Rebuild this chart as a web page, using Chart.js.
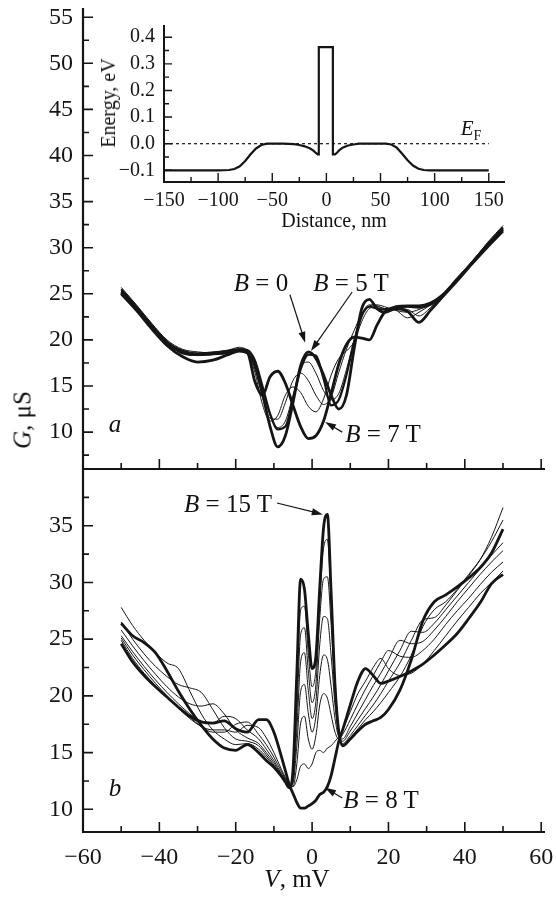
<!DOCTYPE html>
<html>
<head>
<meta charset="utf-8">
<script src="https://cdn.jsdelivr.net/npm/chart.js@4.4.1/dist/chart.umd.min.js"></script>
<style>
  html, body { margin: 0; padding: 0; background: #fff; }
  #wrap { position: relative; width: 556px; height: 897px; overflow: hidden;
          font-family: 'Liberation Serif', 'DejaVu Serif', serif; color: #111; }
  canvas { position: absolute; }
  .t { position: absolute; white-space: nowrap; font-size: 25px; line-height: 1;
       transform: translate(-50%, -50%); }
  .rot { transform: translate(-50%, -50%) rotate(-90deg); }
  i { font-style: italic; }
</style>
</head>
<body>
<div id="wrap">
  <canvas id="chartA" width="556" height="480" style="left:0;top:0"></canvas>
  <canvas id="chartB" width="556" height="437" style="left:0;top:460px"></canvas>
  <canvas id="inset" width="430" height="225" style="left:90px;top:15px"></canvas>

  <div class="t rot" style="left:22px;top:420px"><i>G</i>, μS</div>
  <div class="t" style="left:297px;top:878px"><i>V</i>, mV</div>
  <div class="t rot" style="left:108px;top:103px;font-size:20px">Energy, eV</div>
  <div class="t" style="left:334px;top:220px;font-size:20px">Distance, nm</div>
  <div class="t" style="left:471px;top:128px;font-size:21px"><i>E</i><span style="font-size:14px;position:relative;top:5px">F</span></div>

  <div class="t" style="left:261px;top:282px"><i>B</i> = 0</div>
  <div class="t" style="left:351px;top:282px"><i>B</i> = 5 T</div>
  <div class="t" style="left:383px;top:433px"><i>B</i> = 7 T</div>
  <div class="t" style="left:115px;top:423px"><i>a</i></div>
  <div class="t" style="left:228px;top:503px"><i>B</i> = 15 T</div>
  <div class="t" style="left:381px;top:799px"><i>B</i> = 8 T</div>
  <div class="t" style="left:115px;top:787px"><i>b</i></div>
</div>

<script>
// panel a: bias voltage (mV) and conductance (uS) for B = 0..7 T
const vA = [-50,-46,-42,-38,-34,-30,-26,-22,-19,-17,-15,-13,-11,-9,-7,-5,-3,-1,1,3,5,7,9,11,13,15,17,19,22,25,28,31,34,38,42,46,50];
const gA0 = [25.0,23.2,21.2,19.4,18.2,17.6,17.8,18.4,18.8,18.6,17.2,14.2,10.6,8.4,9.6,13.2,17.2,18.7,18.0,16.2,14.0,12.5,14.0,19.0,23.4,24.4,23.4,23.0,23.4,23.1,21.9,23.2,24.6,26.4,28.3,30.1,31.8];
const gA2 = [25.3,23.4,21.4,19.6,18.6,18.3,18.4,18.7,19.0,18.8,17.6,14.8,11.8,10.5,11.2,14.0,17.0,17.6,16.4,14.5,13.5,14.2,16.8,20.0,22.8,23.8,23.7,23.4,23.4,23.3,22.6,23.5,24.7,26.5,28.4,30.3,32.0];
const gA4 = [25.4,23.5,21.6,19.8,18.9,18.6,18.7,18.9,19.2,18.8,17.0,13.8,11.5,11.4,13.2,15.6,16.4,15.6,14.0,13.0,13.8,16.5,19.0,21.0,22.8,23.7,23.8,23.6,23.2,23.0,23.3,23.9,24.9,26.7,28.6,30.5,32.1];
const gA5 = [25.5,23.6,21.6,19.8,18.8,18.5,18.6,18.8,19.0,18.9,17.8,15.0,12.0,10.3,10.6,13.6,16.8,18.4,18.3,15.8,12.9,13.5,16.2,19.8,22.6,23.6,23.4,23.3,23.5,23.6,23.5,23.8,24.7,26.5,28.4,30.4,32.2];
const gA6 = [25.7,23.8,21.8,20.0,19.0,18.7,18.6,18.7,19.0,18.6,16.5,13.0,11.2,11.8,14.0,14.9,14.3,12.8,12.2,13.6,16.2,18.0,18.8,19.8,22.0,23.4,23.6,23.4,23.2,22.4,23.0,23.8,24.8,26.6,28.5,30.6,32.4];
const gA7 = [25.2,23.4,21.5,19.7,18.6,18.4,18.5,18.6,18.9,18.7,15.5,14.0,16.0,16.6,15.3,12.9,10.6,9.3,9.6,11.2,14.2,17.4,19.5,20.3,20.2,20.0,21.6,23.0,23.6,23.7,23.7,24.0,24.8,26.6,28.4,30.3,32.0];

// panel b: B = 8..15 T
const vB = [-50,-47,-44,-41,-38,-35,-32,-29,-26,-23,-20,-17,-14,-12,-10,-8,-7,-6,-5,-4,-3,-2,-1,0,1,2,3,4,5,6,7,8,10,12,14,16,18,20,23,26,29,32,35,38,41,44,47,50];
const gB8  = [24.6,23.0,21.8,20.8,19.9,19.0,18.2,17.7,17.6,17.8,17.1,16.8,17.9,17.9,16.8,14.6,13.4,12.2,11.4,10.6,10.1,10.1,10.3,10.5,10.8,11.3,11.5,12.0,13.0,14.5,16.0,17.0,19.2,21.3,22.4,21.8,21.1,21.3,21.7,22.2,22.8,23.6,24.5,25.5,26.8,28.2,29.9,30.7];
const gB9  = [24.9,23.3,22.0,20.9,19.9,18.9,18.0,17.3,17.0,17.0,16.8,17.4,17.2,16.3,15.0,13.5,12.8,12.2,12.0,12.6,13.8,14.0,13.6,14.0,15.0,15.2,15.0,15.4,15.6,16.0,16.4,17.0,18.6,20.2,21.3,22.5,23.3,22.4,21.8,22.0,22.8,24.0,25.3,26.6,27.8,29.0,30.0,31.0];
const gB10 = [25.1,23.6,22.3,21.1,20.0,19.0,18.1,17.3,16.8,16.8,17.5,17.7,16.6,15.7,14.6,13.3,12.7,12.1,12.0,14.0,17.6,18.2,16.2,15.3,16.5,19.2,20.2,19.8,18.3,16.8,16.2,16.6,17.9,19.3,20.6,21.8,23.0,24.0,23.5,23.4,24.0,25.0,26.3,27.5,28.6,29.8,30.9,31.8];
const gB11 = [25.3,23.9,22.6,21.4,20.3,19.3,18.4,17.7,17.6,18.2,18.0,17.0,16.2,15.3,14.3,13.1,12.6,12.0,12.3,15.6,20.4,21.0,18.5,16.8,18.2,21.8,23.6,23.2,20.8,18.0,16.4,16.2,17.3,18.5,19.7,20.9,22.0,23.2,24.9,24.6,24.8,25.8,27.0,28.3,29.5,30.7,31.8,32.8];
const gB12 = [25.8,24.4,23.1,21.9,20.8,19.9,19.3,19.1,19.3,18.4,17.0,16.3,15.8,15.0,14.1,13.0,12.5,12.0,12.6,17.0,23.0,23.8,20.5,18.0,19.5,24.5,27.0,26.8,23.5,19.2,16.6,16.0,16.9,17.9,18.9,19.9,21.0,22.2,24.0,25.7,25.6,26.4,27.6,28.8,30.0,31.2,32.4,33.5];
const gB13 = [26.5,25.0,23.7,22.6,21.7,21.0,20.7,20.3,18.8,17.2,16.2,16.0,15.6,14.8,13.9,12.9,12.4,11.9,12.8,18.5,25.4,26.0,22.2,19.4,21.0,26.8,30.3,30.5,26.2,20.5,16.8,15.8,16.5,17.4,18.3,19.2,20.2,21.3,22.9,24.9,26.7,26.9,28.0,29.3,30.6,32.0,34.0,36.6];
const gB14 = [27.8,26.2,24.9,23.8,22.9,22.4,20.4,18.4,17.0,16.2,15.7,15.8,15.3,14.6,13.8,12.9,12.4,11.9,13.1,20.2,27.6,27.9,23.8,20.8,22.3,28.2,33.0,33.8,28.0,21.0,16.9,15.7,16.3,17.1,17.9,18.6,19.4,20.3,21.7,23.6,26.1,27.6,28.3,29.4,30.7,32.0,33.6,35.5];
const gB15 = [26.4,25.3,24.7,23.8,22.2,20.4,18.8,17.4,16.2,15.4,15.2,15.7,15.0,14.3,13.7,12.9,12.4,11.9,13.5,22.0,30.3,29.4,25.5,22.4,23.5,29.5,34.8,36.0,29.0,21.0,16.8,15.6,16.2,16.9,17.5,17.8,18.1,18.8,20.5,23.2,26.6,28.3,28.9,29.6,30.4,31.3,32.6,34.7];

// inset: potential profile
const dInset = [-150,-100,-90,-85,-80,-75,-70,-65,-60,-55,-40,-30,-25,-20,-15,-12,-10,-8,-7,-7,6,6,8,10,12,15,20,25,30,45,55,60,65,70,75,80,85,90,95,150];
const eInset = [-0.1,-0.1,-0.099,-0.095,-0.085,-0.065,-0.04,-0.018,-0.005,0,0,-0.002,-0.005,-0.01,-0.018,-0.026,-0.034,-0.04,-0.04,0.363,0.363,-0.04,-0.04,-0.033,-0.024,-0.015,-0.007,-0.003,0,0,0,-0.003,-0.015,-0.038,-0.062,-0.082,-0.094,-0.099,-0.1,-0.1];
const dFermi = [-150, 150];
const eFermi = [0, 0];

// ticks
const xLabels = [-60,-40,-20,0,20,40,60];
const xMarks = [-60,-50,-40,-30,-20,-10,0,10,20,30,40,50,60];
const yLabelsA = [10,15,20,25,30,35,40,45,50,55];
const yMarksA = [7.5,10,12.5,15,17.5,20,22.5,25,27.5,30,32.5,35,37.5,40,42.5,45,47.5,50,52.5,55];
const yLabelsB = [10,15,20,25,30,35];
const yMarksB = [10,12.5,15,17.5,20,22.5,25,27.5,30,32.5,35,37.5];
const xLabelsIn = [-150,-100,-50,0,50,100,150];
const xMarksIn = [-150,-125,-100,-75,-50,-25,0,25,50,75,100,125,150];
const yLabelsIn = [-0.1,0,0.1,0.2,0.3,0.4];
const yMarksIn = [-0.1,-0.05,0,0.05,0.1,0.15,0.2,0.25,0.3,0.35,0.4];

const INK = '#151515';
const SERIF = "'Liberation Serif', 'DejaVu Serif', serif";

function series(xs, ys, w) {
    return {
        data: xs.map((x, i) => ({ x: x, y: ys[i] })),
        borderColor: INK,
        borderWidth: w,
        pointRadius: 0,
        fill: false,
        cubicInterpolationMode: 'monotone'
    };
}

function marks(values, step, bigLen, smallLen) {
    return values.map(v => {
        let r = Math.abs(v / step - Math.round(v / step));
        return [v, r < 1e-6 ? bigLen : smallLen];
    });
}

function minus(v) {
    return v < 0 ? '\u2212' + Math.abs(v) : String(v);
}

// draws axis lines, inward ticks and arrows
const framePlugin = {
    id: 'frame',
    afterDatasetsDraw(chart, args, o) {
        const ctx = chart.ctx;
        const a = chart.chartArea;
        const xs = chart.scales.x;
        const ys = chart.scales.y;
        ctx.save();
        ctx.strokeStyle = INK;
        ctx.fillStyle = INK;
        ctx.lineWidth = o.width;
        ctx.beginPath();
        ctx.moveTo(a.left, a.top);
        ctx.lineTo(a.left, a.bottom + o.width / 2);
        ctx.moveTo(a.left - o.width / 2, a.bottom);
        ctx.lineTo(a.right, a.bottom);
        ctx.stroke();

        ctx.lineWidth = o.tickWidth;
        ctx.beginPath();
        o.yTicks.forEach(t => {
            let y = ys.getPixelForValue(t[0]);
            ctx.moveTo(a.left, y);
            ctx.lineTo(a.left + t[1], y);
        });
        o.xTicks.forEach(t => {
            let x = xs.getPixelForValue(t[0]);
            ctx.moveTo(x, a.bottom);
            ctx.lineTo(x, a.bottom - t[1]);
        });
        ctx.stroke();

        (o.arrows || []).forEach(ar => {
            let x1 = xs.getPixelForValue(ar[0]), y1 = ys.getPixelForValue(ar[1]);
            let x2 = xs.getPixelForValue(ar[2]), y2 = ys.getPixelForValue(ar[3]);
            let ang = Math.atan2(y2 - y1, x2 - x1);
            ctx.lineWidth = 1.2;
            ctx.beginPath();
            ctx.moveTo(x1, y1);
            ctx.lineTo(x2 - 6 * Math.cos(ang), y2 - 6 * Math.sin(ang));
            ctx.stroke();
            ctx.beginPath();
            ctx.moveTo(x2, y2);
            ctx.lineTo(x2 - 11 * Math.cos(ang) + 3.5 * Math.sin(ang), y2 - 11 * Math.sin(ang) - 3.5 * Math.cos(ang));
            ctx.lineTo(x2 - 11 * Math.cos(ang) - 3.5 * Math.sin(ang), y2 - 11 * Math.sin(ang) + 3.5 * Math.cos(ang));
            ctx.closePath();
            ctx.fill();
        });
        ctx.restore();
    }
};

function fixWidth(w) {
    return function (s) { s.width = w; s.paddingTop = 0; s.paddingBottom = 0; };
}
function fixHeight(h) {
    return function (s) { s.height = h; s.paddingLeft = 0; s.paddingRight = 0; };
}

// panel a
new Chart(document.getElementById('chartA').getContext('2d'), {
    type: 'line',
    data: {
        datasets: [
            series(vA, gA2, 1),
            series(vA, gA4, 1),
            series(vA, gA6, 1),
            series(vA, gA5, 2.2),
            series(vA, gA0, 2.8),
            series(vA, gA7, 2.8)
        ]
    },
    plugins: [framePlugin],
    options: {
        responsive: false,
        animation: false,
        events: [],
        layout: { padding: { top: 8, right: 11, bottom: 11, left: 0 } },
        scales: {
            x: { type: 'linear', min: -60, max: 61, display: false },
            y: {
                type: 'linear', min: 6, max: 56,
                afterFit: fixWidth(83),
                afterBuildTicks: s => { s.ticks = yLabelsA.map(v => ({ value: v })); },
                grid: { display: false, drawTicks: false },
                border: { display: false },
                ticks: { color: INK, padding: 10, font: { family: SERIF, size: 24 }, callback: v => minus(v) }
            }
        },
        plugins: {
            legend: { display: false },
            tooltip: { enabled: false },
            frame: {
                width: 2.2, tickWidth: 1.6,
                yTicks: marks(yMarksA, 5, 10, 6),
                xTicks: marks(xMarks, 20, 10, 6),
                arrows: [
                    [-5.8, 24.9, -1.8, 19.7],
                    [10.5, 25.2, -0.3, 18.8],
                    [7.9, 10.0, 3.4, 11.1]
                ]
            }
        }
    }
});

// panel b
new Chart(document.getElementById('chartB').getContext('2d'), {
    type: 'line',
    data: {
        datasets: [
            series(vB, gB9, 1),
            series(vB, gB10, 1),
            series(vB, gB11, 1),
            series(vB, gB12, 1),
            series(vB, gB13, 1),
            series(vB, gB14, 1),
            series(vB, gB8, 2.8),
            series(vB, gB15, 2.8)
        ]
    },
    plugins: [framePlugin],
    options: {
        responsive: false,
        animation: false,
        events: [],
        layout: { padding: { top: 9, right: 11, bottom: 0, left: 0 } },
        scales: {
            x: {
                type: 'linear', min: -60, max: 61,
                afterFit: fixHeight(65),
                afterBuildTicks: s => { s.ticks = xLabels.map(v => ({ value: v })); },
                grid: { display: false, drawTicks: false },
                border: { display: false },
                ticks: { color: INK, padding: 11, autoSkip: false, maxRotation: 0, font: { family: SERIF, size: 24 }, callback: v => minus(v) }
            },
            y: {
                type: 'linear', min: 8, max: 40,
                afterFit: fixWidth(83),
                afterBuildTicks: s => { s.ticks = yLabelsB.map(v => ({ value: v })); },
                grid: { display: false, drawTicks: false },
                border: { display: false },
                ticks: { color: INK, padding: 10, font: { family: SERIF, size: 24 }, callback: v => minus(v) }
            }
        },
        plugins: {
            legend: { display: false },
            tooltip: { enabled: false },
            frame: {
                width: 2.2, tickWidth: 1.6,
                yTicks: marks(yMarksB, 5, 10, 6),
                xTicks: marks(xMarks, 20, 10, 6),
                arrows: [
                    [-9.2, 37.0, 2.8, 36.0],
                    [7.9, 11.0, 3.4, 11.9]
                ]
            }
        }
    }
});

// inset: energy profile
const insetFermi = series(dFermi, eFermi, 1.2);
insetFermi.borderDash = [3, 3];
insetFermi.cubicInterpolationMode = 'default';
const insetProfile = series(dInset, eInset, 2.2);
insetProfile.cubicInterpolationMode = 'default';
insetProfile.tension = 0;

new Chart(document.getElementById('inset').getContext('2d'), {
    type: 'line',
    data: { datasets: [insetFermi, insetProfile] },
    plugins: [framePlugin],
    options: {
        responsive: false,
        animation: false,
        events: [],
        layout: { padding: { top: 10, right: 15, bottom: 0, left: 0 } },
        scales: {
            x: {
                type: 'linear', min: -150, max: 165,
                afterFit: fixHeight(58),
                afterBuildTicks: s => { s.ticks = xLabelsIn.map(v => ({ value: v })); },
                grid: { display: false, drawTicks: false },
                border: { display: false },
                ticks: { color: INK, padding: 7, autoSkip: false, maxRotation: 0, font: { family: SERIF, size: 20 }, callback: v => minus(v) }
            },
            y: {
                type: 'linear', min: -0.144, max: 0.446,
                afterFit: fixWidth(74),
                afterBuildTicks: s => { s.ticks = yLabelsIn.map(v => ({ value: v })); },
                grid: { display: false, drawTicks: false },
                border: { display: false },
                ticks: { color: INK, padding: 9, font: { family: SERIF, size: 20 },
                         callback: v => (v < 0 ? '\u2212' : '') + Math.abs(v).toFixed(1) }
            }
        },
        plugins: {
            legend: { display: false },
            tooltip: { enabled: false },
            frame: {
                width: 2, tickWidth: 1.4,
                yTicks: marks(yMarksIn, 0.1, 8, 5),
                xTicks: marks(xMarksIn, 50, 9, 5)
            }
        }
    }
});
</script>
</body>
</html>
